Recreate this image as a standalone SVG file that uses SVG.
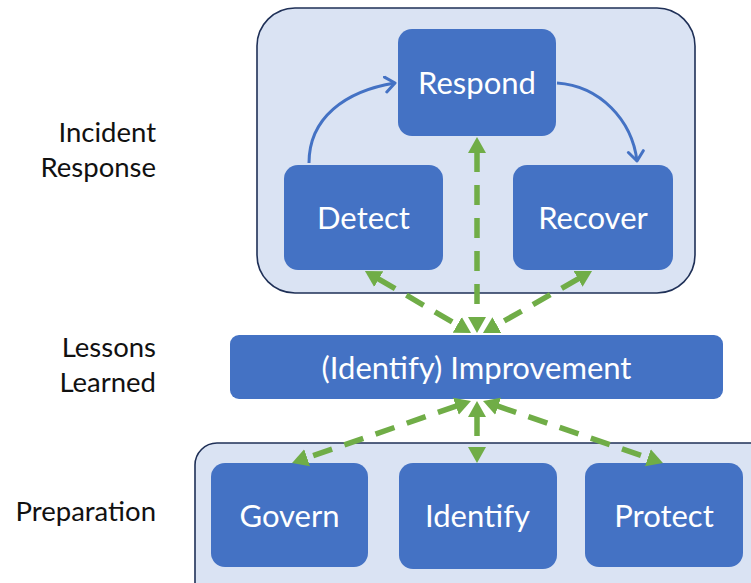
<svg xmlns="http://www.w3.org/2000/svg" width="751" height="583" viewBox="0 0 751 583">
  <style>
    .group { fill: #DAE3F3; stroke: #1F3057; stroke-width: 1.6; }
    .node { fill: #4472C4; }
    .ntext { font-family: Lato, "Liberation Sans", sans-serif; font-size: 31px; fill: #FFFFFF; text-anchor: middle; }
    .side { font-family: Lato, "Liberation Sans", sans-serif; font-size: 27.5px; fill: #111111; text-anchor: end; }
    .flow { fill: none; stroke: #4472C4; stroke-width: 3; }
    .link { fill: none; stroke: #70AD47; stroke-width: 5.5; stroke-dasharray: 20 13; }
  </style>
  <defs>
    <marker id="chevron" markerUnits="userSpaceOnUse" markerWidth="16" markerHeight="20" refX="11" refY="9" orient="auto" viewBox="0 0 16 20">
      <path d="M1.5,1.5 L11,9 L1.5,16.5" fill="none" stroke="#4472C4" stroke-width="3" stroke-linecap="round" stroke-linejoin="round"/>
    </marker>
    <marker id="tri" markerUnits="userSpaceOnUse" markerWidth="18" markerHeight="20" refX="1" refY="9.5" orient="auto-start-reverse" viewBox="0 0 18 20">
      <path d="M0,0.5 L16,9.5 L0,18.5 z" fill="#70AD47"/>
    </marker>
  </defs>

  <!-- row labels -->
  <g id="labels">
    <text class="side" x="156" y="142">Incident</text>
    <text class="side" x="156" y="177">Response</text>
    <text class="side" x="156" y="357">Lessons</text>
    <text class="side" x="156" y="392">Learned</text>
    <text class="side" x="156" y="521">Preparation</text>
  </g>

  <!-- phase containers -->
  <g id="incident-response">
    <rect class="group" x="257" y="8" width="438" height="285" rx="38"/>
  </g>
  <g id="preparation">
    <rect class="group" x="195" y="443" width="590" height="170" rx="22"/>
  </g>

  <g id="respond">
    <rect class="node" x="398" y="29" width="158" height="107" rx="14"/>
    <text class="ntext" x="477" y="94">Respond</text>
  </g>
  <g id="detect">
    <rect class="node" x="284" y="165" width="159" height="105" rx="14"/>
    <text class="ntext" x="363.5" y="229">Detect</text>
  </g>
  <g id="recover">
    <rect class="node" x="513" y="165" width="160" height="105" rx="14"/>
    <text class="ntext" x="593" y="229">Recover</text>
  </g>
  <g id="improvement">
    <rect class="node" x="230" y="335" width="493" height="64" rx="9"/>
    <text class="ntext" x="476.5" y="379">(Identify) Improvement</text>
  </g>
  <g id="govern">
    <rect class="node" x="211" y="463" width="157" height="104" rx="14"/>
    <text class="ntext" x="289.5" y="527">Govern</text>
  </g>
  <g id="identify">
    <rect class="node" x="399" y="463" width="158" height="106" rx="14"/>
    <text class="ntext" x="477.5" y="527">Identify</text>
  </g>
  <g id="protect">
    <rect class="node" x="585" y="463" width="158" height="104" rx="14"/>
    <text class="ntext" x="664" y="527">Protect</text>
  </g>

  <g id="connectors">
    <!-- incident response cycle -->
    <path class="flow" d="M309,163 C309,118 345,91 395,83" marker-end="url(#chevron)"/>
    <path class="flow" d="M557,83 C600,86 632,120 637,161" marker-end="url(#chevron)"/>
    <!-- links to improvement -->
    <path class="link" d="M477,152 L477,318" marker-start="url(#tri)" marker-end="url(#tri)"/>
    <path class="link" d="M377.9,278.6 L458.1,325.4" marker-start="url(#tri)" marker-end="url(#tri)"/>
    <path class="link" d="M579,278.4 L496,325.6" marker-start="url(#tri)" marker-end="url(#tri)"/>
    <path class="link" d="M456.8,405.9 L306.2,458.1" marker-start="url(#tri)" marker-end="url(#tri)"/>
    <path class="link" d="M477,416 L477,448" marker-start="url(#tri)" marker-end="url(#tri)"/>
    <path class="link" d="M497.2,405.9 L648.8,458.1" marker-start="url(#tri)" marker-end="url(#tri)"/>
  </g>
</svg>
